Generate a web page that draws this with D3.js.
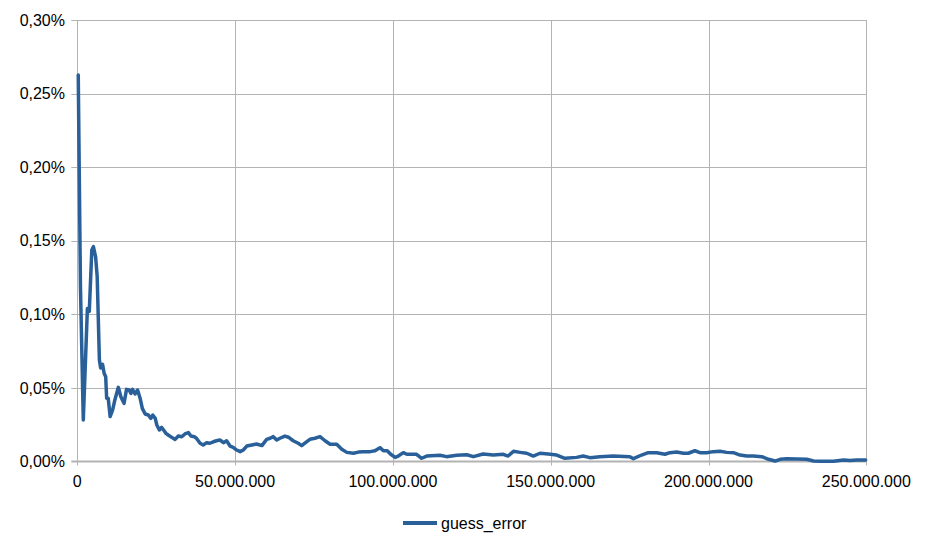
<!DOCTYPE html>
<html><head><meta charset="utf-8">
<script src="https://cdn.jsdelivr.net/npm/d3@7"></script>
<style>body{margin:0;background:#fff}svg{display:block}text{font-family:"Liberation Sans",Arial,sans-serif}</style>
</head><body><svg id="c" width="930" height="538"></svg>
<script>
// x in millions, y in percent
const xs = [0.3,1.0,1.9,3.2,3.8,4.6,5.1,5.8,6.3,7.0,7.4,8.0,8.5,9.0,9.3,9.8,10.4,11.2,11.9,13.0,13.8,14.8,15.6,16.4,17.0,17.5,18.3,19.1,19.9,20.6,21.5,22.5,23.3,23.9,24.7,25.2,26.0,26.7,27.5,28.1,28.8,29.9,31.0,32.0,33.1,34.1,35.2,36.0,37.1,37.8,38.9,39.9,41.0,42.0,43.1,44.1,45.2,46.3,47.3,48.4,49.4,50.5,51.6,52.6,53.7,55.3,56.8,58.5,60.0,61.1,62.1,63.2,64.2,65.8,66.9,68.4,70.0,71.1,72.1,73.7,75.3,76.9,78.5,80.1,82.2,83.8,85.4,87.5,89.1,90.6,92.8,94.3,95.9,97.0,98.2,99.3,100.7,101.7,103.3,104.4,107.5,109.1,110.7,114.9,117.0,120.2,123.4,125.5,128.6,131.8,135.0,136.5,138.2,140.3,142.4,144.5,146.6,149.2,151.9,154.5,158.2,160.3,162.4,165.6,169.8,175.1,176.2,178.8,180.9,183.6,186.2,187.8,189.9,192.0,193.6,195.7,197.3,199.4,201.5,203.6,205.8,207.9,210.0,212.1,214.2,216.9,219.0,221.1,222.7,224.8,228.0,231.1,233.3,235.4,239.6,242.8,244.9,247.0,249.8];
const guessError = [0.2626,0.1188,0.0282,0.104,0.102,0.1437,0.146,0.139,0.1256,0.069,0.0635,0.066,0.060,0.0576,0.043,0.043,0.0305,0.035,0.0418,0.0504,0.044,0.0395,0.049,0.0486,0.0463,0.049,0.0459,0.0486,0.043,0.0361,0.0323,0.0316,0.0293,0.0316,0.0293,0.0248,0.0214,0.0232,0.0209,0.0191,0.018,0.0164,0.015,0.0173,0.0168,0.0187,0.0196,0.0173,0.0168,0.0157,0.0124,0.0112,0.0128,0.0124,0.0134,0.0141,0.0146,0.0128,0.0141,0.0105,0.0096,0.0078,0.0067,0.0078,0.0105,0.0112,0.0119,0.0108,0.0150,0.0158,0.0169,0.0146,0.0158,0.0173,0.0165,0.0141,0.0124,0.0108,0.0125,0.0151,0.0158,0.0169,0.0141,0.0117,0.0117,0.0083,0.0062,0.0056,0.0064,0.0067,0.0067,0.0073,0.0094,0.0073,0.0073,0.0049,0.0028,0.0037,0.006,0.0049,0.0049,0.0022,0.0037,0.0042,0.0033,0.0042,0.0046,0.0033,0.0051,0.0044,0.0049,0.0037,0.0069,0.0062,0.0056,0.0037,0.0056,0.0051,0.0044,0.0022,0.0028,0.0037,0.0026,0.0033,0.0037,0.0033,0.0019,0.0044,0.006,0.006,0.0049,0.006,0.0064,0.0056,0.0056,0.0073,0.006,0.006,0.0067,0.0069,0.0062,0.006,0.0044,0.0037,0.0037,0.0033,0.0015,0.0003,0.0015,0.0019,0.0017,0.0015,0.0003,0.0001,0.0001,0.001,0.0006,0.001,0.001];
const xTicks = [0,50,100,150,200,250];
const xTickLabels = ["0","50.000.000","100.000.000","150.000.000","200.000.000","250.000.000"];
const yTicks = [0,0.05,0.10,0.15,0.20,0.25,0.30];
const yTickLabels = ["0,00%","0,05%","0,10%","0,15%","0,20%","0,25%","0,30%"];
const seriesName = "guess_error";

const svg = d3.select("#c");
const x = d3.scaleLinear().domain([0,250]).range([77.3,866.3]);
const y = d3.scaleLinear().domain([0,0.30]).range([461.5,20]);
const grid = "#b3b3b3";

// horizontal gridlines
svg.append("g").selectAll("line").data(yTicks.slice(1)).join("line")
  .attr("x1",x(0)-6).attr("x2",x(250)).attr("y1",d=>Math.round(y(d))+0.5).attr("y2",d=>Math.round(y(d))+0.5)
  .attr("stroke",grid).attr("stroke-width",1);
// vertical gridlines
svg.append("g").selectAll("line").data(xTicks).join("line")
  .attr("x1",d=>Math.round(x(d))+0.5).attr("x2",d=>Math.round(x(d))+0.5).attr("y1",y(0.30)).attr("y2",y(0)+4)
  .attr("stroke",grid).attr("stroke-width",1);
// bottom axis line
svg.append("line").attr("x1",x(0)-6).attr("x2",x(250)).attr("y1",y(0)).attr("y2",y(0))
  .attr("stroke",grid).attr("stroke-width",2);

// y labels
svg.append("g").selectAll("text").data(yTicks).join("text")
  .attr("x",65).attr("y",d=>y(d)).attr("dy","0.35em").attr("text-anchor","end")
  .attr("font-size",16).attr("fill","#000").text((d,i)=>yTickLabels[i]);
// x labels
svg.append("g").selectAll("text").data(xTicks).join("text")
  .attr("x",d=>x(d)).attr("y",487).attr("text-anchor","middle")
  .attr("font-size",16).attr("fill","#000").text((d,i)=>xTickLabels[i]);

// line
const pts = xs.map((v,i)=>[v,guessError[i]]);
svg.append("path").datum(pts)
  .attr("d",d3.line().x(d=>x(d[0])).y(d=>y(d[1])))
  .attr("fill","none").attr("stroke","#2a6099").attr("stroke-width",3.5)
  .attr("stroke-linejoin","round").attr("stroke-linecap","round");

// legend
svg.append("line").attr("x1",403).attr("x2",437).attr("y1",523).attr("y2",523)
  .attr("stroke","#2a6099").attr("stroke-width",4);
svg.append("text").attr("x",441).attr("y",523).attr("dy","0.35em")
  .attr("font-size",16).attr("fill","#000").text(seriesName);
</script></body></html>
